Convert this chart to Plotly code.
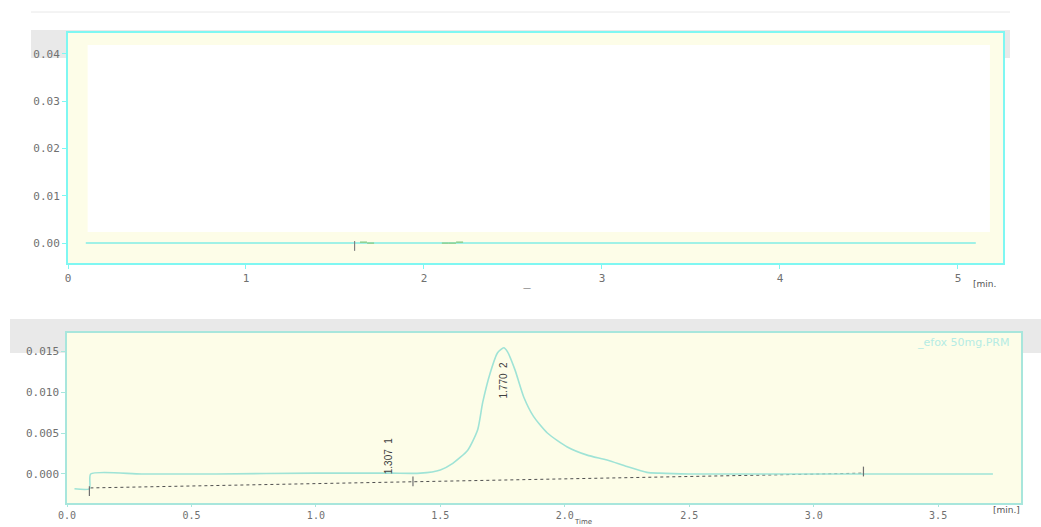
import plotly.graph_objects as go

W, H = 1041, 527

# ---------------- data ----------------
# upper panel (blank channel)
top_time = [0.10, 1.00, 1.60, 1.65, 1.70, 2.10, 2.15, 2.20, 3.00, 4.00, 5.10]
top_signal = [0.0000, 0.0000, 0.0000, -0.0001, -0.0001, -0.0001, 0.0000, 0.0000, 0.0000, 0.0000, 0.0000]
top_event_time = [1.61]
top_event_signal = [-0.0006]
top_green_time = [1.66, 1.70, 2.12, 2.16, 2.20]
top_green_signal = [0.0002, 0.0000, 0.0000, 0.0000, 0.0002]
top_yticks = [0.00, 0.01, 0.02, 0.03, 0.04]
top_xticks = [0, 1, 2, 3, 4, 5]

# lower panel (sample chromatogram)
bot_time = [0.03, 0.09, 0.095, 0.30, 0.60, 1.00, 1.30, 1.42, 1.50, 1.55, 1.61, 1.65, 1.67,
            1.70, 1.73, 1.755, 1.77, 1.80, 1.835, 1.875, 1.93, 2.01, 2.09, 2.17, 2.25, 2.33,
            2.38, 2.50, 3.00, 3.50, 3.72]
bot_signal = [-0.0018, -0.0018, 0.0000, 0.0000, 0.0000, 0.0001, 0.0001, 0.0001, 0.0005, 0.0013,
              0.0029, 0.0054, 0.0087, 0.0123, 0.0148, 0.0154, 0.0149, 0.0127, 0.0094, 0.0070,
              0.0050, 0.0033, 0.0023, 0.0017, 0.0009, 0.0002, 0.0001, 0.0000, 0.0000, 0.0000,
              0.0000]
base_time = [0.094, 3.20]
base_signal = [-0.0017, 0.0001]
event_time = [0.09, 1.39, 3.20]
event_signal = [-0.0021, -0.0009, 0.0003]
peak_labels = ["1.307  1", "1.770  2"]
peak_label_time = [1.295, 1.755]
peak_label_signal = [0.0022, 0.0115]
bot_yticks = [0.000, 0.005, 0.010, 0.015]
bot_xticks = [0.0, 0.5, 1.0, 1.5, 2.0, 2.5, 3.0, 3.5]

# ---------------- helpers ----------------
def px_x(a, b):
    return [a / W, b / W]

def px_y(top, bottom):
    return [1 - bottom / H, 1 - top / H]

TOP_LINE = "#80ece6"
TOP_BORDER = "#7ff7f2"
BOT_LINE = "#9fe3d6"
BOT_BORDER = "#a8e6dc"
YELLOW = "#fdfde8"
TICKFONT = dict(family="DejaVu Sans Mono", size=11, color="#707070")
TICKFONT_SMALL = dict(family="DejaVu Sans Mono", size=10, color="#707070")

fig = go.Figure()

fig.add_trace(go.Scatter(x=top_time, y=top_signal, mode="lines",
                         line=dict(color=TOP_LINE, width=1.5), xaxis="x", yaxis="y",
                         hoverinfo="skip"))
fig.add_trace(go.Scatter(x=top_green_time, y=top_green_signal, mode="markers",
                         marker=dict(symbol="line-ew", size=5, line=dict(color="#8fd08f", width=1.5)),
                         xaxis="x", yaxis="y", hoverinfo="skip"))
fig.add_trace(go.Scatter(x=top_event_time, y=top_event_signal, mode="markers",
                         marker=dict(symbol="line-ns", size=7, line=dict(color="#808080", width=1.2)),
                         xaxis="x", yaxis="y", hoverinfo="skip"))

fig.add_trace(go.Scatter(x=base_time, y=base_signal, mode="lines",
                         line=dict(color="#505050", width=1, dash="3px,3px"),
                         xaxis="x2", yaxis="y2", hoverinfo="skip"))
fig.add_trace(go.Scatter(x=bot_time, y=bot_signal, mode="lines",
                         line=dict(color=BOT_LINE, width=1.6, shape="spline", smoothing=0.6),
                         xaxis="x2", yaxis="y2", hoverinfo="skip"))
fig.add_trace(go.Scatter(x=event_time, y=event_signal, mode="markers",
                         marker=dict(symbol="line-ns", size=7, line=dict(color="#707070", width=1.2)),
                         xaxis="x2", yaxis="y2", hoverinfo="skip"))

axis_common = dict(showgrid=False, zeroline=False, showline=True, mirror=True,
                   ticks="outside", fixedrange=True, automargin=False)

fig.update_layout(
    width=W, height=H, margin=dict(l=0, r=0, t=0, b=0, autoexpand=False),
    paper_bgcolor="white", plot_bgcolor="rgba(0,0,0,0)", showlegend=False,
    xaxis=dict(domain=px_x(68, 1003), range=[0, 5.253], tickvals=top_xticks,
               ticktext=[str(v) for v in top_xticks], linecolor=TOP_BORDER, linewidth=2,
               tickcolor=TOP_BORDER, anchor="y", ticklen=4, tickfont=TICKFONT, **axis_common),
    yaxis=dict(domain=px_y(33, 263), range=[-0.0042, 0.0444], tickvals=top_yticks,
               ticktext=[f"{v:.2f}" for v in top_yticks], linecolor=TOP_BORDER, linewidth=2,
               tickcolor=TOP_BORDER, anchor="x", ticklen=4, tickfont=TICKFONT, **axis_common),
    xaxis2=dict(domain=px_x(67, 1021), range=[0, 3.833], tickvals=bot_xticks,
                ticktext=[f"{v:.1f}" for v in bot_xticks], linecolor=BOT_BORDER, linewidth=1.5,
                tickcolor=BOT_BORDER, anchor="y2", ticklen=2, tickfont=TICKFONT_SMALL,
                **axis_common),
    yaxis2=dict(domain=px_y(333, 503), range=[-0.00354, 0.0172], tickvals=bot_yticks,
                ticktext=[f"{v:.3f}" for v in bot_yticks], linecolor=BOT_BORDER, linewidth=1.5,
                tickcolor=BOT_BORDER, anchor="x2", ticklen=4, tickfont=TICKFONT, **axis_common),
)

shapes = [
    # faint rule at very top
    dict(type="line", xref="paper", yref="paper", x0=31 / W, x1=1010 / W,
         y0=1 - 12 / H, y1=1 - 12 / H, line=dict(color="#e8e8e8", width=1), layer="below"),
    # grey panel headers
    dict(type="rect", xref="paper", yref="paper", x0=31 / W, x1=1010 / W,
         y0=1 - 58 / H, y1=1 - 30 / H, fillcolor="#e9e9e9", line=dict(width=0), layer="below"),
    dict(type="rect", xref="paper", yref="paper", x0=10 / W, x1=1041 / W,
         y0=1 - 353 / H, y1=1 - 319 / H, fillcolor="#e9e9e9", line=dict(width=0), layer="below"),
    # plot backgrounds
    dict(type="rect", xref="x domain", yref="y domain", x0=0, x1=1, y0=0, y1=1,
         fillcolor=YELLOW, line=dict(width=0), layer="below"),
    dict(type="rect", xref="x domain", yref="y domain", x0=0.021, x1=0.986, y0=0.135, y1=0.948,
         fillcolor="white", line=dict(width=0), layer="below"),
    dict(type="rect", xref="x2 domain", yref="y2 domain", x0=0, x1=1, y0=0, y1=1,
         fillcolor=YELLOW, line=dict(width=0), layer="below"),
]
fig.update_layout(shapes=shapes)

ann = [
    dict(text="[min.", x=998 / W, y=1 - 284 / H, xref="paper", yref="paper", showarrow=False,
         font=dict(family="DejaVu Sans", size=9, color="#555555")),
    dict(text="—", x=527 / W, y=1 - 288 / H, xref="paper", yref="paper", showarrow=False,
         font=dict(family="DejaVu Sans", size=8, color="#777777")),
    dict(text="[min.]", x=1022 / W, y=1 - 510 / H, xref="paper", yref="paper", showarrow=False,
         yanchor="middle", font=dict(family="DejaVu Sans", size=9, color="#555555")),
    dict(text="Time", x=583 / W, y=1 - 522 / H, xref="paper", yref="paper", showarrow=False,
         yanchor="middle", font=dict(family="DejaVu Sans", size=7, color="#555555")),
    dict(text="_efox 50mg.PRM", x=1012 / W, y=1 - 342 / H, xref="paper", yref="paper",
         xanchor="right", yanchor="middle", showarrow=False,
         font=dict(family="DejaVu Sans", size=11, color="#b5ece4")),
]
for lbl, tx, sy in zip(peak_labels, peak_label_time, peak_label_signal):
    ann.append(dict(text=lbl, x=tx, y=sy, xref="x2", yref="y2", showarrow=False, textangle=-90,
                    font=dict(family="Liberation Sans Narrow, Liberation Sans", size=10, color="#404040")))
fig.update_layout(annotations=ann)

fig.write_html("out.html")
